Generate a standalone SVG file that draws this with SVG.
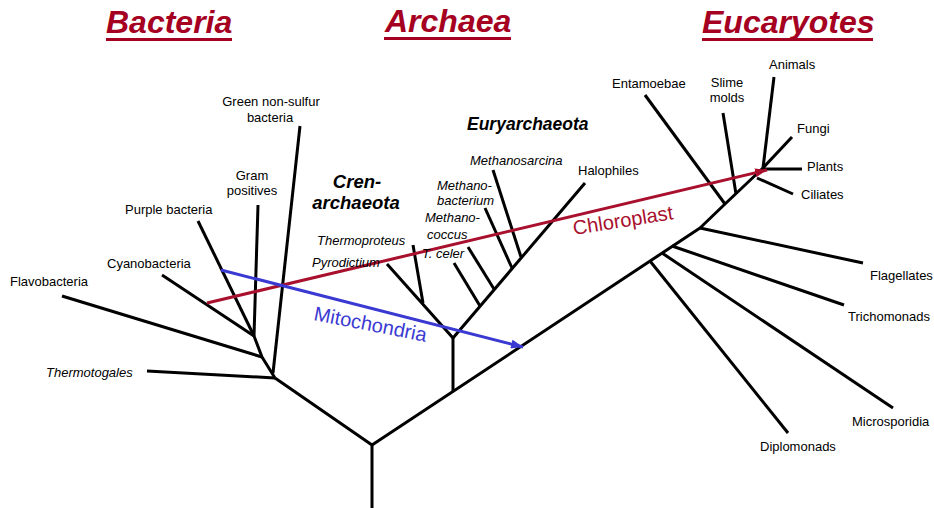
<svg xmlns="http://www.w3.org/2000/svg" width="934" height="508" viewBox="0 0 934 508">
<style>
.br{stroke:#000;stroke-width:3;fill:none;stroke-linecap:butt;stroke-linejoin:round}
.lb{font-family:"Liberation Sans",Arial,sans-serif;font-size:13px;fill:#000}
.it{font-style:italic}
.grp{font-family:"Liberation Sans",Arial,sans-serif;font-weight:bold;font-style:italic;fill:#000}
.ttl{font-family:"Liberation Sans",Arial,sans-serif;font-weight:bold;font-style:italic;font-size:32px;fill:#A50021}
.ul{fill:#A50021}
.chl{stroke:#A8102E;stroke-width:3;fill:none}
.mit{stroke:#3A3AD2;stroke-width:3;fill:none}
</style>
<defs>
<marker id="arR" markerUnits="userSpaceOnUse" markerWidth="12" markerHeight="9" refX="12" refY="4.5" orient="auto"><path d="M0,0 L12,4.5 L0,9 z" fill="#A8102E"/></marker>
<marker id="arB" markerUnits="userSpaceOnUse" markerWidth="12" markerHeight="9" refX="12" refY="4.5" orient="auto"><path d="M0,0 L12,4.5 L0,9 z" fill="#3A3AD2"/></marker>
</defs>
<rect width="934" height="508" fill="#fff"/>

<g id="titles">
<g id="title-bacteria"><text class="ttl" x="106" y="33">Bacteria</text><rect class="ul" x="106" y="38" width="126" height="3"/></g>
<g id="title-archaea"><text class="ttl" x="385" y="32">Archaea</text><rect class="ul" x="384" y="37" width="127" height="3"/></g>
<g id="title-eucaryotes"><text class="ttl" x="702" y="33">Eucaryotes</text><rect class="ul" x="702" y="38" width="171" height="3"/></g>
</g>

<g id="connectors">
<!-- root and main branches -->
<path class="br" d="M372,508 L372,445 L275,378"/>
<path class="br" d="M372,445 L700,228 L725,204 L763,168"/>
<!-- bacteria -->
<path class="br" d="M147,371 L275,378"/>
<path class="br" d="M275,378 L262,357 L254,336"/>
<path class="br" d="M62,296 L262,357"/>
<path class="br" d="M300,126 L273,373"/>
<path class="br" d="M258,205 L254,336"/>
<path class="br" d="M198,221 L254,336"/>
<path class="br" d="M162,275 L254,336"/>
<!-- archaea -->
<path class="br" d="M453,392 L453,338"/>
<path class="br" d="M387,264 L453,338"/>
<path class="br" d="M413,245 L423,303"/>
<path class="br" d="M453,338 L585,183"/>
<path class="br" d="M454,263 L480,306"/>
<path class="br" d="M468,247 L494,289"/>
<path class="br" d="M485,208 L512,268"/>
<path class="br" d="M493,170 L521,257"/>
<!-- eukaryotes -->
<path class="br" d="M645,95 L725,204"/>
<path class="br" d="M723,113 L736,194"/>
<path class="br" d="M774,77 L763,168"/>
<path class="br" d="M792,137 L763,168"/>
<path class="br" d="M802,169 L763,169"/>
<path class="br" d="M793,194 L757,178"/>
<path class="br" d="M700,228 L863,263"/>
<path class="br" d="M672,246 L844,305"/>
<path class="br" d="M662,253 L893,408"/>
<path class="br" d="M650,261 L788,433"/>
<!-- endosymbiosis arrows -->
<path class="chl" d="M207,303 L767,170" marker-end="url(#arR)"/>
<path class="mit" d="M221,270 L523,347" marker-end="url(#arB)"/>
</g>

<g id="bacteria-labels">
<g id="n-flavo"><text class="lb" x="10" y="286">Flavobacteria</text></g>
<g id="n-cyano"><text class="lb" x="107" y="268">Cyanobacteria</text></g>
<g id="n-thermotogales"><text class="lb it" x="46" y="377">Thermotogales</text></g>
<g id="n-purple"><text class="lb" x="125" y="214">Purple bacteria</text></g>
<g id="n-gram"><text class="lb" x="252" y="180" text-anchor="middle">Gram</text><text class="lb" x="252" y="195" text-anchor="middle">positives</text></g>
<g id="n-green"><text class="lb" x="271" y="106" text-anchor="middle">Green non-sulfur</text><text class="lb" x="270" y="122" text-anchor="middle">bacteria</text></g>
</g>

<g id="archaea-labels">
<g id="n-eury"><text class="grp" x="467" y="130" font-size="17.5">Euryarchaeota</text></g>
<g id="n-cren"><text class="grp" x="357" y="188" font-size="18.5" text-anchor="middle">Cren-</text><text class="grp" x="356" y="209" font-size="18.5" text-anchor="middle">archaeota</text></g>
<g id="n-methanosarcina"><text class="lb it" x="470" y="165">Methanosarcina</text></g>
<g id="n-methanobacterium"><text class="lb it" x="437" y="190">Methano-</text><text class="lb it" x="437" y="205">bacterium</text></g>
<g id="n-methanococcus"><text class="lb it" x="425" y="222">Methano-</text><text class="lb it" x="427" y="239">coccus</text></g>
<g id="n-thermoproteus"><text class="lb it" x="317" y="245">Thermoproteus</text></g>
<g id="n-pyrodictium"><text class="lb it" x="312" y="267">Pyrodictium</text></g>
<g id="n-tceler"><text class="lb it" x="422" y="258">T. celer</text></g>
<g id="n-halophiles"><text class="lb" x="578" y="175">Halophiles</text></g>
</g>

<g id="eukaryote-labels">
<g id="n-entamoebae"><text class="lb" x="612" y="88">Entamoebae</text></g>
<g id="n-slime"><text class="lb" x="727" y="87" text-anchor="middle">Slime</text><text class="lb" x="727" y="102" text-anchor="middle">molds</text></g>
<g id="n-animals"><text class="lb" x="769" y="69">Animals</text></g>
<g id="n-fungi"><text class="lb" x="797" y="133">Fungi</text></g>
<g id="n-plants"><text class="lb" x="807" y="171">Plants</text></g>
<g id="n-ciliates"><text class="lb" x="801" y="199">Ciliates</text></g>
<g id="n-flagellates"><text class="lb" x="870" y="280">Flagellates</text></g>
<g id="n-trichomonads"><text class="lb" x="848" y="321">Trichomonads</text></g>
<g id="n-microsporidia"><text class="lb" x="852" y="426">Microsporidia</text></g>
<g id="n-diplomonads"><text class="lb" x="760" y="451">Diplomonads</text></g>
</g>

<g id="arrow-labels">
<text x="574" y="235" transform="rotate(-9 574 235)" font-family="Liberation Sans,Arial,sans-serif" font-size="20" fill="#A8102E">Chloroplast</text>
<text x="313" y="320" transform="rotate(11 313 320)" font-family="Liberation Sans,Arial,sans-serif" font-size="20" fill="#3A3AD2">Mitochondria</text>
</g>
</svg>
